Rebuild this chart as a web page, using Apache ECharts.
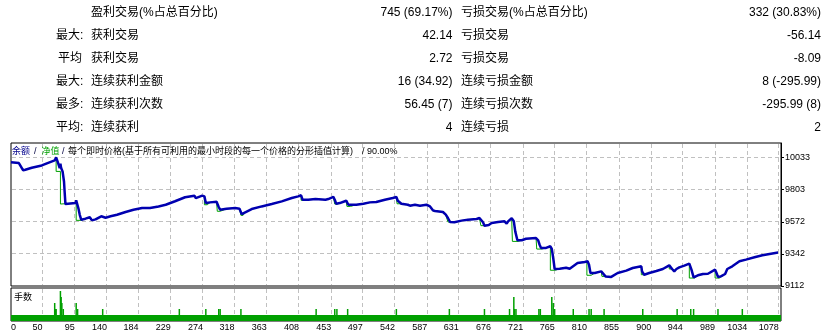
<!DOCTYPE html>
<html><head><meta charset="utf-8">
<script src="https://cdn.jsdelivr.net/npm/echarts@6/dist/echarts.min.js"></script>
<style>
html,body{margin:0;padding:0;background:#fff}
#wrap{position:relative;width:832px;height:336px;background:#fff}
#c{position:absolute;left:0;top:0;width:832px;height:336px;z-index:1}
.t{position:absolute;white-space:nowrap;font:12px "Liberation Sans","Noto Sans CJK SC",sans-serif;color:#000;line-height:14px;transform:translateY(-50%);z-index:3}
.r{transform:translate(-100%,-50%)}
.s{font-size:9px;line-height:11px}
.gv{position:absolute;width:1px;z-index:2;mix-blend-mode:darken;pointer-events:none;
  background:repeating-linear-gradient(to bottom,#c0c0c0 0 4px,transparent 4px 7px)}
.gh{position:absolute;height:1px;z-index:2;mix-blend-mode:darken;pointer-events:none;
  background:repeating-linear-gradient(to right,#c0c0c0 0 4px,transparent 4px 7px)}
</style>
</head><body><div id="wrap"><div id="c"></div></div>
<script>
// ---- table texts ----
const rowPrefix = ['', '最大:', '平均', '最大:', '最多:', '平均:'];
const leftLabels = ['盈利交易(%占总百分比)', '获利交易', '获利交易', '连续获利金额', '连续获利次数', '连续获利'];
const leftValues = ['745 (69.17%)', '42.14', '2.72', '16 (34.92)', '56.45 (7)', '4'];
const rightLabels = ['亏损交易(%占总百分比)', '亏损交易', '亏损交易', '连续亏损金额', '连续亏损次数', '连续亏损'];
const rightValues = ['332 (30.83%)', '-56.14', '-8.09', '8 (-295.99)', '-295.99 (8)', '2'];

// ---- axes ----
const xTickLabels = [0, 50, 95, 140, 184, 229, 274, 318, 363, 408, 453, 497, 542, 587, 631, 676, 721, 765, 810, 855, 900, 944, 989, 1034, 1078];
const yTickLabels = [9112, 9342, 9572, 9803, 10033];
const xMin = 6, xMax = 1081;
const yMin = 9112, yMax = 10138;

// ---- balance curve (trade #, balance) ----
const balTrades = [6,17,23,26,35,49,57,67,69,71,74,75,76,78,80,81,82,96,97,99,100,102,104,110,116,119,124,132,134,138,145,154,166,177,189,200,212,222,235,249,262,264,273,276,278,284,293,296,298,307,319,325,328,333,342,356,370,384,398,407,411,413,421,431,433,445,449,456,458,460,465,474,477,479,488,498,507,509,516,528,539,544,546,551,560,563,570,577,586,591,595,598,609,613,616,619,625,635,644,656,660,665,667,673,677,686,695,698,700,705,708,710,713,719,725,739,742,744,746,753,759,761,763,765,772,781,786,788,797,807,811,813,815,821,830,836,844,853,865,874,886,887,890,897,907,916,925,929,932,935,939,946,953,956,959,965,972,979,989,991,993,997,1003,1006,1013,1023,1032,1044,1055,1067,1077];
const balValues = [10000,9994,9942,9946,9960,9977,9994,10013,10035,10006,9958,9989,9958,9934,9862,9778,9700,9707,9727,9720,9671,9623,9588,9595,9605,9583,9590,9612,9623,9602,9612,9623,9643,9659,9671,9671,9683,9695,9720,9749,9760,9743,9760,9755,9707,9712,9717,9679,9659,9666,9671,9666,9628,9641,9664,9683,9700,9719,9743,9755,9763,9731,9731,9736,9727,9731,9736,9751,9731,9702,9707,9724,9695,9683,9695,9702,9712,9700,9715,9731,9743,9751,9724,9702,9695,9688,9695,9688,9695,9683,9655,9650,9643,9624,9600,9571,9569,9581,9588,9593,9600,9569,9545,9550,9564,9571,9576,9559,9576,9598,9576,9504,9440,9440,9451,9456,9440,9408,9385,9385,9397,9378,9313,9234,9236,9243,9236,9248,9277,9284,9289,9265,9205,9205,9217,9181,9177,9205,9222,9241,9253,9217,9193,9205,9220,9234,9260,9234,9217,9234,9246,9258,9272,9229,9174,9189,9198,9200,9229,9205,9177,9181,9198,9234,9253,9289,9301,9318,9332,9344,9352];

// ---- equity curve (trade #, equity) ----
const eqTrades = [6,17,23,26,35,49,57,67,69,69,75,75,96,97,97,104,110,116,119,124,132,134,138,145,154,166,177,189,190,192,200,212,222,235,249,262,264,273,276,276,280,284,293,294,298,307,319,325,327,330,333,342,356,370,384,398,407,411,411,415,421,431,433,445,449,456,458,462,465,474,475,480,488,498,507,509,516,528,539,544,545,551,560,563,570,577,586,591,595,598,609,613,616,620,625,635,644,656,660,662,668,673,677,686,695,698,700,705,706,714,719,725,739,740,747,753,759,759,766,772,781,786,788,797,807,810,810,816,821,830,831,837,844,853,865,874,886,886,891,897,907,916,925,925,929,932,935,939,946,953,953,960,965,972,979,989,989,995,997,1003,1006,1013,1023,1032,1044,1055,1067,1077];
const eqValues = [10000,9994,9942,9946,9960,9977,9994,10013,10035,9934,9934,9700,9707,9727,9583,9583,9595,9605,9583,9590,9612,9623,9602,9612,9623,9643,9659,9671,9660,9671,9671,9683,9695,9720,9749,9760,9743,9760,9755,9695,9695,9712,9717,9648,9648,9666,9671,9666,9619,9619,9641,9664,9683,9700,9719,9743,9755,9763,9727,9727,9731,9736,9727,9731,9736,9751,9700,9700,9707,9724,9683,9683,9695,9702,9712,9700,9715,9731,9743,9751,9702,9702,9695,9688,9695,9688,9695,9683,9650,9650,9643,9624,9571,9571,9569,9581,9588,9593,9600,9545,9545,9550,9564,9571,9576,9559,9576,9598,9432,9432,9440,9451,9456,9377,9377,9385,9397,9225,9225,9236,9243,9236,9248,9277,9284,9289,9189,9189,9205,9217,9181,9181,9177,9205,9222,9241,9253,9193,9193,9205,9220,9234,9260,9234,9234,9217,9234,9246,9258,9272,9169,9169,9189,9198,9200,9229,9169,9169,9181,9198,9234,9253,9289,9301,9318,9332,9344,9352];

// ---- lots ----
const baseLot = 0.01;
const lotMax = 0.055;
const lotTrades = [67,68,69,75,76,77,79,97,99,134,241,278,296,298,327,432,458,461,476,544,618,667,702,708,709,711,743,745,761,763,765,791,813,816,834,888,936,955,959,993,1027];
const lotSizes  = [0.03,0.02,0.02,0.05,0.04,0.03,0.02,0.03,0.02,0.02,0.02,0.02,0.02,0.02,0.02,0.02,0.02,0.02,0.02,0.02,0.02,0.02,0.02,0.04,0.02,0.02,0.02,0.02,0.04,0.03,0.02,0.02,0.02,0.02,0.02,0.02,0.02,0.02,0.02,0.02,0.02];

const pair = (a, b) => a.map((v, i) => [v, b[i]]);

// ---- text (HTML) ----
const wrap = document.getElementById('wrap');
function addText(txt, x, y, cls, color) {
  const d = document.createElement('div');
  d.className = 't ' + (cls || '');
  d.textContent = txt;
  d.style.left = x + 'px'; d.style.top = y + 'px';
  if (color) d.style.color = color;
  wrap.appendChild(d);
}
const rowY = i => 12.3 + i * 22.9;
for (let i = 0; i < 6; i++) {
  const y = rowY(i);
  if (rowPrefix[i]) addText(rowPrefix[i], rowPrefix[i].endsWith(':') ? 56 : 58, y);
  addText(leftLabels[i], 91, y);
  addText(leftValues[i], 452.5, y, 'r');
  addText(rightLabels[i], 461, y);
  addText(rightValues[i], 821, y, 'r');
}
const legendParts = [
  ['余额', 12, '#00008b'], ['/', 34, '#000040'], ['净值', 41.5, '#00a000'], ['/', 62, '#000040'],
  ['每个即时价格(基于所有可利用的最小时段的每一个价格的分形插值计算)', 68, '#000'], ['/', 362, '#000'], ['90.00%', 367, '#000']
];
legendParts.forEach(p => addText(p[0], p[1], 151, 's', p[2]));
addText('手数', 14, 297, 's');

const xGridPos = xTickLabels.filter(v => v > xMin);
const xLabelPos = xTickLabels.map(v => Math.max(v, xMin));

const option = {
  animation: false,
  backgroundColor: 'transparent',
  grid: [
    {left: 11, top: 143, width: 770, height: 143, show: true, borderColor:'#000', borderWidth: 1},
    {left: 11, top: 288, width: 770, height: 33, show: true, borderColor:'#000', borderWidth: 1}
  ],
  xAxis: [
    {gridIndex: 0, type:'value', min: xMin, max: xMax, axisLine:{show:false},
     axisTick:{show:false}, axisLabel:{show:false}, splitLine:{show:false}},
    {gridIndex: 1, type:'value', min: xMin, max: xMax, axisLine:{show:false},
     axisTick:{show:false, customValues: xGridPos},
     axisLabel:{show:true, customValues: xLabelPos, align:'right', alignMinLabel:'left', margin: 2,
       fontSize: 9, fontFamily:'"Liberation Sans", sans-serif', color:'#000',
       formatter: v => String(xTickLabels[xLabelPos.indexOf(v)])},
     splitLine:{show:false}}
  ],
  yAxis: [
    {gridIndex: 0, type:'value', position:'right', min: yMin, max: yMax,
     axisLine:{show:true, lineStyle:{color:'#000'}},
     axisTick:{show:true, length: 3, customValues: yTickLabels, lineStyle:{color:'#000'}},
     axisLabel:{show:true, customValues: yTickLabels, margin: 4, fontSize: 9, fontFamily:'"Liberation Sans", sans-serif', color:'#000',
       formatter: v => String(v)},
     splitLine:{show:false}},
    {gridIndex: 1, type:'value', min: 0, max: lotMax, axisLine:{show:false}, axisTick:{show:false}, axisLabel:{show:false}, splitLine:{show:false}}
  ],
  series: [
    {type:'line', xAxisIndex:0, yAxisIndex:0, data: pair(eqTrades, eqValues), showSymbol:false,
     lineStyle:{color:'#00a000', width:1}, z: 2},
    {type:'line', xAxisIndex:0, yAxisIndex:0, data: pair(balTrades, balValues), showSymbol:false,
     lineStyle:{color:'#0000b0', width:2.5}, z: 3},
    {type:'line', xAxisIndex:1, yAxisIndex:1, data: [[xMin, baseLot], [xMax, baseLot]], showSymbol:false,
     lineStyle:{width:0}, areaStyle:{color:'#00a000', opacity:1}, z: 2},
    {type:'bar', xAxisIndex:1, yAxisIndex:1, data: pair(lotTrades, lotSizes), barWidth: 1.5,
     itemStyle:{color:'#00a000'}, z: 3}
  ]
};
const chart = echarts.init(document.getElementById('c'), null, {renderer:'canvas'});
chart.setOption(option);

// ---- dashed grid lines placed through the chart's own scales ----
function addGrid(cls, left, top, w, h) {
  const d = document.createElement('div');
  d.className = cls;
  d.style.left = left + 'px'; d.style.top = top + 'px';
  if (w != null) d.style.width = w + 'px';
  if (h != null) d.style.height = h + 'px';
  wrap.appendChild(d);
}
const px = (axis, idx, v) => chart.convertToPixel(axis === 'x' ? {xAxisIndex: idx} : {yAxisIndex: idx}, v);
const mainTop = Math.round(px('y', 0, yMax)) + 1, mainBot = Math.round(px('y', 0, yMin));
const volTop = Math.round(px('y', 1, lotMax)) + 1, volBot = Math.round(px('y', 1, baseLot));
const leftPx = Math.round(px('x', 0, xMin)) + 1, rightPx = Math.round(px('x', 0, xMax));
xGridPos.forEach(v => {
  const x = Math.floor(px('x', 0, v));
  if (x > leftPx && x < rightPx) {
    addGrid('gv', x, mainTop, null, mainBot - mainTop);
    addGrid('gv', x, volTop, null, volBot - volTop);
  }
});
yTickLabels.filter(v => v > yMin).forEach(v => {
  const y = Math.floor(px('y', 0, v));
  addGrid('gh', leftPx, y, rightPx - leftPx, null);
});
</script></body></html>
